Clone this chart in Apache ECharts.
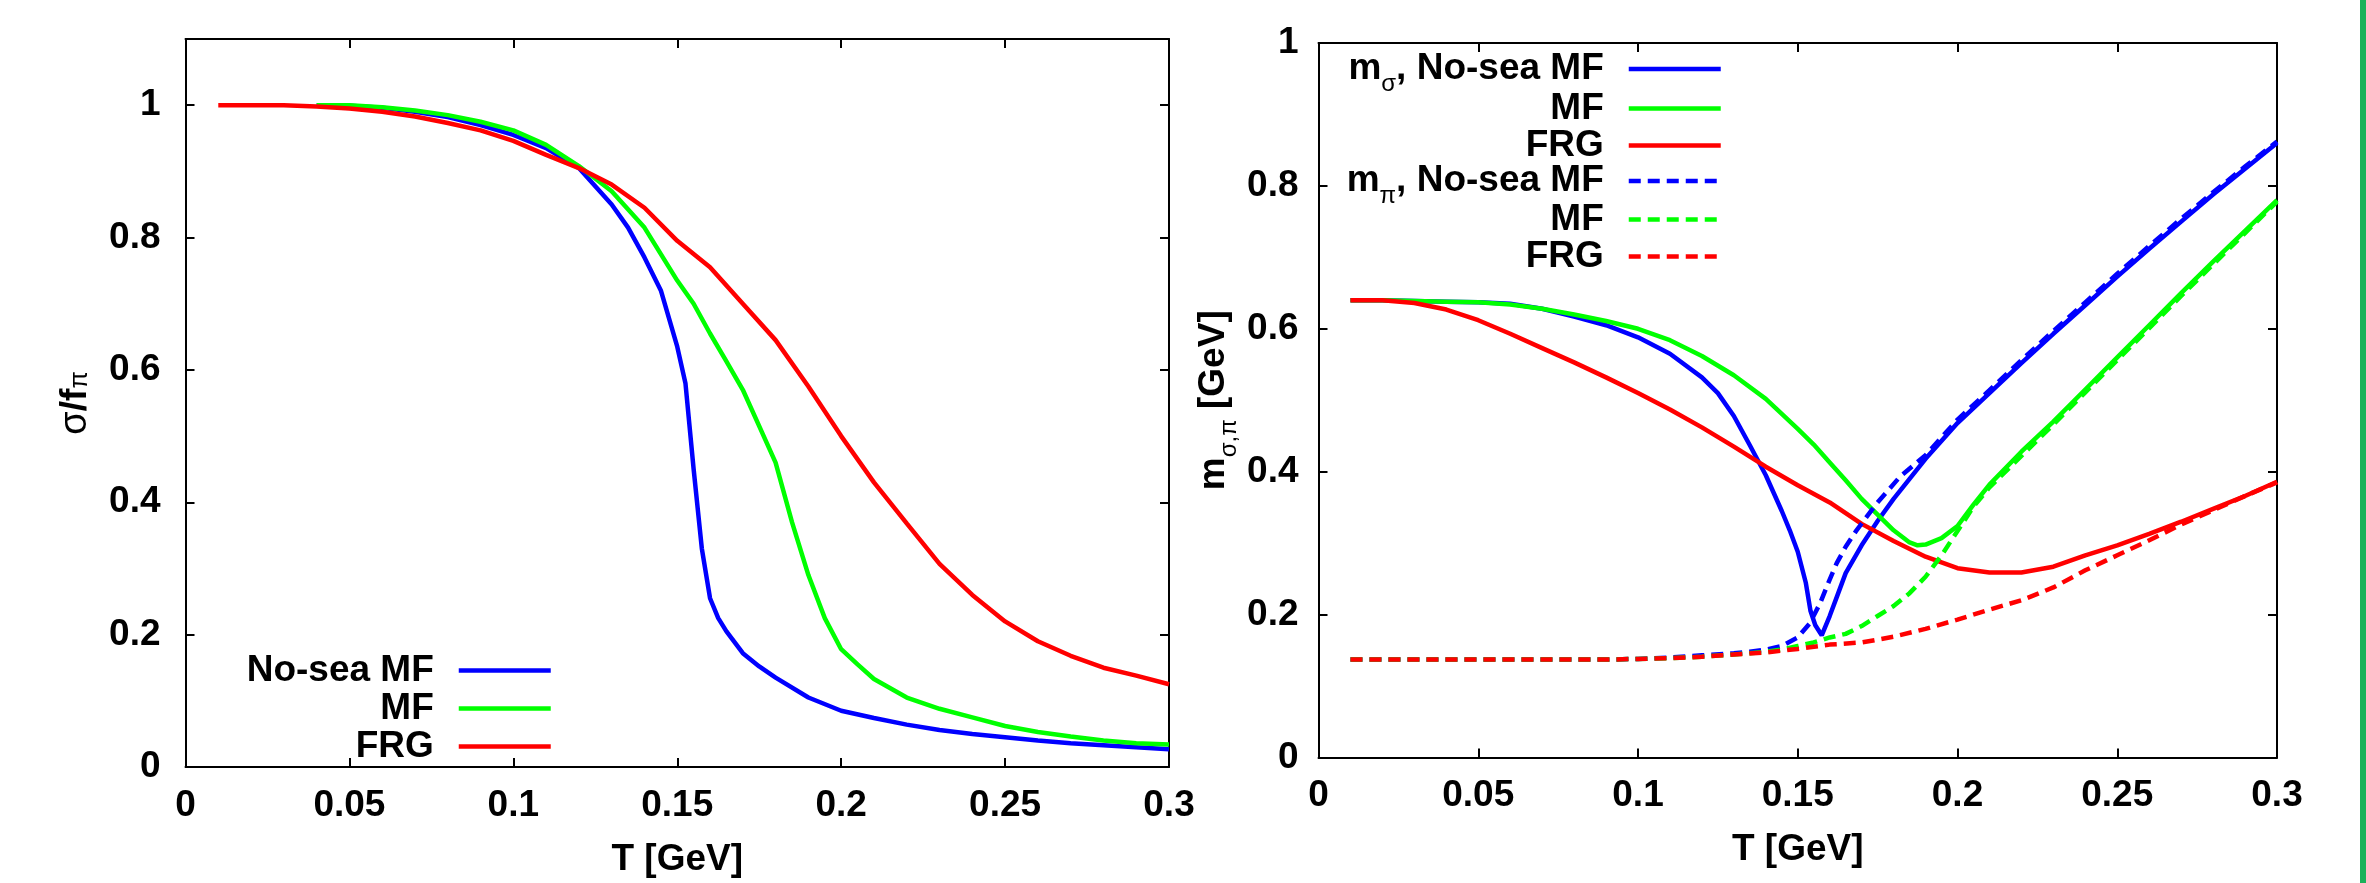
<!DOCTYPE html>
<html><head><meta charset="utf-8">
<script src="https://cdn.jsdelivr.net/npm/echarts@6/dist/echarts.min.js"></script>
<style>html,body{margin:0;padding:0;background:#fff}#c{width:2366px;height:883px}</style>
</head><body><div id="c"></div>
<script>
// ---------- Left panel: sigma / f_pi ----------
const tLNoSea = [0.04,0.05,0.06,0.07,0.08,0.09,0.10,0.11,0.12,0.13,0.135,0.14,0.145,0.15,0.1525,0.155,0.1575,0.16,0.1625,0.165,0.17,0.175,0.18,0.19,0.20,0.21,0.22,0.23,0.24,0.25,0.26,0.27,0.28,0.29,0.30];
const vLNoSea = [1.0,0.999,0.996,0.99,0.982,0.97,0.955,0.935,0.905,0.85,0.815,0.77,0.72,0.635,0.58,0.45,0.33,0.255,0.225,0.205,0.172,0.152,0.135,0.105,0.085,0.074,0.064,0.056,0.05,0.045,0.04,0.036,0.033,0.03,0.027];
const tLMF = [0.04,0.05,0.06,0.07,0.08,0.09,0.10,0.11,0.12,0.13,0.14,0.15,0.155,0.16,0.165,0.17,0.175,0.18,0.185,0.19,0.195,0.20,0.205,0.21,0.22,0.23,0.24,0.25,0.26,0.27,0.28,0.29,0.30];
const vLMF = [1.0,1.0,0.997,0.992,0.985,0.975,0.962,0.94,0.908,0.87,0.815,0.735,0.70,0.655,0.613,0.57,0.515,0.46,0.37,0.29,0.225,0.178,0.155,0.133,0.105,0.088,0.075,0.062,0.053,0.046,0.04,0.036,0.034];
const tLFRG = [0.01,0.02,0.03,0.04,0.05,0.06,0.07,0.08,0.09,0.10,0.11,0.12,0.13,0.14,0.15,0.16,0.17,0.18,0.19,0.20,0.21,0.22,0.23,0.24,0.25,0.26,0.27,0.28,0.29,0.30];
const vLFRG = [1.0,1.0,1.0,0.998,0.995,0.99,0.983,0.973,0.962,0.946,0.925,0.905,0.88,0.845,0.795,0.755,0.70,0.645,0.575,0.5,0.43,0.368,0.307,0.26,0.22,0.19,0.168,0.15,0.138,0.125];

// ---------- Right panel: m_sigma (solid), m_pi (dashed) ----------
const tSNoSea = [0.01,0.02,0.03,0.04,0.05,0.06,0.07,0.08,0.09,0.10,0.11,0.12,0.125,0.13,0.135,0.14,0.145,0.1475,0.15,0.1525,0.154,0.1555,0.1575,0.16,0.1625,0.165,0.17,0.175,0.18,0.185,0.19,0.20,0.21,0.22,0.23,0.24,0.25,0.26,0.27,0.28,0.29,0.30];
const vSNoSea = [0.64,0.64,0.639,0.638,0.637,0.635,0.628,0.617,0.605,0.588,0.565,0.532,0.51,0.478,0.437,0.395,0.345,0.318,0.288,0.245,0.205,0.185,0.171,0.198,0.228,0.258,0.297,0.331,0.362,0.39,0.418,0.468,0.51,0.552,0.593,0.633,0.673,0.712,0.75,0.788,0.824,0.86];
const tSMF = [0.01,0.02,0.03,0.04,0.05,0.06,0.07,0.08,0.09,0.10,0.11,0.12,0.13,0.14,0.15,0.155,0.16,0.165,0.17,0.175,0.18,0.185,0.1875,0.19,0.195,0.20,0.205,0.21,0.22,0.23,0.24,0.25,0.26,0.27,0.28,0.29,0.30];
const vSMF = [0.64,0.64,0.639,0.638,0.637,0.634,0.628,0.62,0.611,0.6,0.584,0.562,0.535,0.502,0.46,0.438,0.413,0.388,0.362,0.34,0.318,0.301,0.297,0.298,0.307,0.324,0.354,0.382,0.428,0.47,0.515,0.56,0.605,0.65,0.694,0.737,0.78];
const tSFRG = [0.01,0.02,0.03,0.04,0.05,0.06,0.07,0.08,0.09,0.10,0.11,0.12,0.13,0.14,0.15,0.16,0.17,0.18,0.19,0.20,0.21,0.22,0.23,0.24,0.25,0.26,0.27,0.28,0.29,0.30];
const vSFRG = [0.64,0.64,0.636,0.627,0.612,0.593,0.573,0.553,0.532,0.51,0.487,0.462,0.435,0.407,0.381,0.357,0.327,0.303,0.281,0.265,0.259,0.259,0.267,0.283,0.297,0.313,0.33,0.348,0.366,0.386];
const tPNoSea = [0.01,0.03,0.05,0.07,0.09,0.10,0.11,0.12,0.13,0.135,0.14,0.145,0.15,0.1538,0.157,0.16,0.1622,0.165,0.1684,0.1747,0.182,0.19,0.20,0.21,0.22,0.23,0.24,0.25,0.26,0.27,0.28,0.29,0.30];
const vPNoSea = [0.137,0.137,0.137,0.137,0.137,0.138,0.14,0.143,0.146,0.148,0.151,0.156,0.168,0.188,0.216,0.249,0.272,0.295,0.318,0.3555,0.393,0.423,0.473,0.514,0.556,0.597,0.637,0.677,0.716,0.754,0.791,0.827,0.862];
const tPMF = [0.01,0.03,0.05,0.07,0.09,0.10,0.11,0.12,0.13,0.14,0.145,0.15,0.155,0.16,0.165,0.17,0.175,0.18,0.185,0.19,0.195,0.20,0.205,0.21,0.22,0.23,0.24,0.25,0.26,0.27,0.28,0.29,0.30];
const vPMF = [0.137,0.137,0.137,0.137,0.137,0.138,0.139,0.141,0.144,0.148,0.151,0.156,0.161,0.168,0.173,0.184,0.198,0.212,0.23,0.253,0.283,0.317,0.351,0.378,0.422,0.466,0.511,0.556,0.601,0.646,0.69,0.734,0.778];
const tPFRG = [0.01,0.03,0.05,0.07,0.09,0.10,0.11,0.12,0.13,0.14,0.15,0.16,0.17,0.18,0.19,0.20,0.21,0.22,0.23,0.24,0.25,0.26,0.27,0.28,0.29,0.30];
const vPFRG = [0.137,0.137,0.137,0.137,0.137,0.138,0.139,0.141,0.144,0.147,0.152,0.158,0.161,0.169,0.18,0.193,0.207,0.22,0.238,0.262,0.283,0.304,0.326,0.346,0.366,0.385];

// ---------- Labels ----------
const xTitle = 'T [GeV]';
const yTitleLeft = '{g|σ}{a|/f}{s|π}';
const yTitleRight = '{a|m}{s|σ,π}{a| [GeV]}';
const legendLabels = {
  L_nosea: '{a|No-sea MF}{gap| }', L_mf: '{a|MF}{gap| }', L_frg: '{a|FRG}{gap| }',
  S_nosea: '{a|m}{s|σ}{a|, No-sea MF}{gap| }', S_mf: '{a|MF}{gap| }', S_frg: '{a|FRG}{gap| }',
  P_nosea: '{a|m}{s|π}{a|, No-sea MF}{gap| }', P_mf: '{a|MF}{gap| }', P_frg: '{a|FRG}{gap| }'
};

const F = "'Liberation Sans', Arial, Helvetica, sans-serif";
const BLUE = '#0000ff', GREEN = '#00ff00', RED = '#ff0000';
const DASH = [12, 7];
const LW = 4.5;
const FS = 37;

const zip = (t, v) => t.map((x, i) => [x, v[i]]);
const fmt = v => String(parseFloat(Number(v).toFixed(3)));

const richBase = {
  a: {fontFamily: F, fontWeight: 'bold', fontSize: 37, lineHeight: 44, color: '#000', verticalAlign: 'middle'},
  g: {fontFamily: F, fontWeight: 'normal', fontSize: 38, lineHeight: 44, color: '#000', verticalAlign: 'middle'},
  s: {fontFamily: F, fontWeight: 'normal', fontSize: 24, lineHeight: 24, padding: [30, 0, 0, 0], color: '#000', verticalAlign: 'middle'},
  gap: {width: 20, fontSize: 10, lineHeight: 10, verticalAlign: 'middle'}
};

const axisLine = {show: true, onZero: false, lineStyle: {color: '#000', width: 2}};
const axisTick = {show: true, inside: true, length: 9, lineStyle: {color: '#000', width: 2}};
const labelStyle = {fontFamily: F, fontWeight: 'bold', fontSize: FS, color: '#000'};

function xAx(grid, pos, withLabels, gap) {
  const o = {type: 'value', gridIndex: grid, position: pos, min: 0, max: 0.3, interval: 0.05,
    axisLine, axisTick, splitLine: {show: false}};
  if (withLabels) {
    o.axisLabel = Object.assign({margin: 20, formatter: fmt}, labelStyle);
    o.name = xTitle; o.nameLocation = 'middle'; o.nameGap = gap;
    o.nameTextStyle = {fontFamily: F, fontWeight: 'bold', fontSize: 37, color: '#000'};
  } else {
    o.axisLabel = {show: false};
  }
  return o;
}
function yAx(grid, pos, max, withLabels, margin, name, rich, gap) {
  const o = {type: 'value', gridIndex: grid, position: pos, min: 0, max: max, interval: 0.2,
    axisLine, axisTick, splitLine: {show: false}};
  if (withLabels) {
    o.axisLabel = Object.assign({margin: margin,
      formatter: v => (Math.abs(v * 5 - Math.round(v * 5)) < 1e-6 ? fmt(v) : '')}, labelStyle);
    o.name = name; o.nameLocation = 'middle'; o.nameGap = gap;
    o.nameTextStyle = {rich: rich};
  } else {
    o.axisLabel = {show: false};
  }
  return o;
}

function line(name, xi, yi, t, v, color, dashed, z) {
  return {name, type: 'line', xAxisIndex: xi, yAxisIndex: yi, data: zip(t, v),
    symbol: 'none', showSymbol: false, clip: true, z: z,
    lineStyle: {color, width: LW, type: dashed ? DASH : 'solid'},
    itemStyle: {color}, emphasis: {disabled: true}};
}

const richLeftTitle = {
  a: richBase.a, g: richBase.g,
  s: {fontFamily: F, fontWeight: 'normal', fontSize: 25, lineHeight: 25, padding: [10, 0, 0, 0], color: '#000', verticalAlign: 'middle'}
};
const richRightTitle = {
  a: richBase.a,
  s: {fontFamily: F, fontWeight: 'normal', fontSize: 24, lineHeight: 24, padding: [32, 0, 0, 0], color: '#000', verticalAlign: 'middle'}
};

function legendItem(name, right, center) {
  const hasSub = legendLabels[name].indexOf('{s|') >= 0;
  const H = hasSub ? 54 : 44;
  return {data: [name], orient: 'horizontal', align: 'right', right: right, top: center - H / 2 + (hasSub ? 0 : 6),
    padding: 0, itemWidth: 92, itemHeight: 14, selectedMode: false,
    itemStyle: {opacity: 0, borderWidth: 0},
    lineStyle: {width: LW},
    formatter: n => legendLabels[n], textStyle: {rich: richBase}};
}

const chart = echarts.init(document.getElementById('c'), null, {renderer: 'canvas'});
chart.setOption({
  animation: false,
  backgroundColor: '#fff',
  grid: [
    {left: 185.5, top: 39, width: 983.5, height: 732, containLabel: false},
    {left: 1318.5, top: 43, width: 958.5, height: 714.5, containLabel: false}
  ],
  xAxis: [xAx(0, 'bottom', true, 74), xAx(0, 'top', false), xAx(1, 'bottom', true, 74), xAx(1, 'top', false)],
  yAxis: [
    yAx(0, 'left', 1.1, true, 25, yTitleLeft, richLeftTitle, 88),
    yAx(0, 'right', 1.1, false),
    yAx(1, 'left', 1.0, true, 20, yTitleRight, richRightTitle, 83),
    yAx(1, 'right', 1.0, false)
  ],
  legend: [
    legendItem('L_nosea', 1813, 668), legendItem('L_mf', 1813, 706), legendItem('L_frg', 1813, 744),
    legendItem('S_nosea', 643, 69), legendItem('S_mf', 643, 106), legendItem('S_frg', 643, 143),
    legendItem('P_nosea', 643, 181), legendItem('P_mf', 643, 217), legendItem('P_frg', 643, 254)
  ],
  graphic: [{type: 'rect', left: 2360, top: 0, shape: {width: 6, height: 883}, style: {fill: '#19b25a'}, silent: true}],
  series: [
    line('L_nosea', 0, 0, tLNoSea, vLNoSea, BLUE, false, 2),
    line('L_mf', 0, 0, tLMF, vLMF, GREEN, false, 3),
    line('L_frg', 0, 0, tLFRG, vLFRG, RED, false, 4),
    line('S_nosea', 2, 2, tSNoSea, vSNoSea, BLUE, false, 2),
    line('S_mf', 2, 2, tSMF, vSMF, GREEN, false, 3),
    line('S_frg', 2, 2, tSFRG, vSFRG, RED, false, 4),
    line('P_nosea', 2, 2, tPNoSea, vPNoSea, BLUE, true, 5),
    line('P_mf', 2, 2, tPMF, vPMF, GREEN, true, 6),
    line('P_frg', 2, 2, tPFRG, vPFRG, RED, true, 7)
  ]
});
</script></body></html>
